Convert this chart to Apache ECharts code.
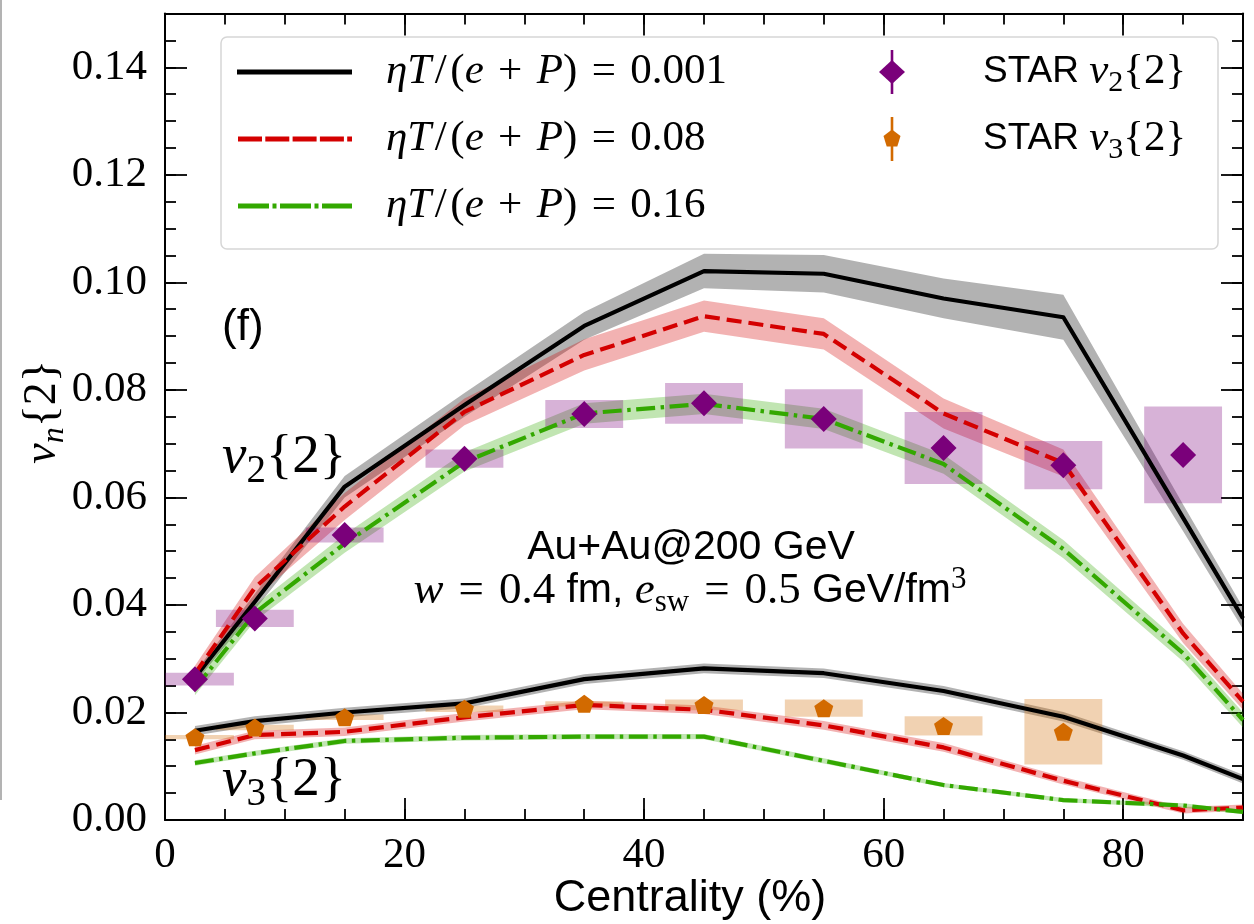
<!DOCTYPE html>
<html>
<head>
<meta charset="utf-8">
<script src="https://cdn.jsdelivr.net/npm/echarts@6/dist/echarts.min.js"></script>
<style>
  html, body { margin: 0; padding: 0; background: #ffffff; }
  #chart { width: 1254px; height: 924px; }
</style>
</head>
<body>
<div id="chart"></div>
<script>
// ---- data -------------------------------------------------------------
// centrality bins of the STAR points (%)
const centrality = [2.5, 7.5, 15, 25, 35, 45, 55, 65, 75, 85];
// centrality nodes of the hydro curves (%)
const modelX = [2.5, 7.5, 15, 25, 35, 45, 55, 65, 75, 85, 90];

// v2{2} hydro, eta T/(e+P) = 0.001, 0.08, 0.16 : central value and band half-width
const v2Eta001 = [0.0265, 0.0406, 0.0620, 0.0772, 0.0919, 0.1021, 0.1016, 0.0970, 0.0935, 0.0562, 0.0375];
const v2Eta001Err = [0.0010, 0.0015, 0.0020, 0.0022, 0.0026, 0.0032, 0.0035, 0.0037, 0.0042, 0.0025, 0.0020];
const v2Eta008 = [0.0272, 0.0432, 0.0583, 0.0759, 0.0865, 0.0937, 0.0904, 0.0756, 0.0664, 0.0347, 0.0220];
const v2Eta008Err = [0.0015, 0.0020, 0.0025, 0.0025, 0.0029, 0.0029, 0.0029, 0.0028, 0.0025, 0.0018, 0.0015];
const v2Eta016 = [0.0245, 0.0385, 0.0514, 0.0666, 0.0756, 0.0774, 0.0746, 0.0662, 0.0504, 0.0310, 0.0186];
const v2Eta016Err = [0.0013, 0.0015, 0.0017, 0.0018, 0.0019, 0.0019, 0.0019, 0.0018, 0.0017, 0.0015, 0.0014];

// v3{2} hydro
const v3Eta001 = [0.0166, 0.0184, 0.0200, 0.0217, 0.0262, 0.0282, 0.0273, 0.0240, 0.0192, 0.0120, 0.0076];
const v3Eta001Err = [0.0009, 0.0009, 0.0009, 0.0009, 0.0009, 0.0009, 0.0009, 0.0009, 0.0009, 0.0008, 0.0008];
const v3Eta008 = [0.0130, 0.0158, 0.0164, 0.0191, 0.0214, 0.0205, 0.0176, 0.0135, 0.0073, 0.0018, 0.0023];
const v3Eta008Err = [0.0008, 0.0008, 0.0008, 0.0008, 0.0008, 0.0008, 0.0008, 0.0008, 0.0007, 0.0006, 0.0006];
const v3Eta016 = [0.0106, 0.0124, 0.0147, 0.0153, 0.0155, 0.0155, 0.0110, 0.0065, 0.0037, 0.0027, 0.0015];
const v3Eta016Err = [0.0005, 0.0005, 0.0005, 0.0005, 0.0005, 0.0005, 0.0005, 0.0004, 0.0004, 0.0004, 0.0004];

// STAR Au+Au 200 GeV two-particle cumulants, with systematic half-heights
const starV2 = [0.0262, 0.0375, 0.0530, 0.0672, 0.0755, 0.0775, 0.0746, 0.0692, 0.0660, 0.0679];
const starV2Sys = [0.0012, 0.0016, 0.0014, 0.0017, 0.0026, 0.0038, 0.0055, 0.0067, 0.0045, 0.0090];
const starV3 = [0.0154, 0.0172, 0.0191, 0.0207, 0.0216, 0.0214, 0.0208, 0.0175, 0.0164];
const starV3Sys = [0.0004, 0.0005, 0.0005, 0.0006, 0.0005, 0.0010, 0.0016, 0.0018, 0.0061];

// axis ticks
const xTicks = [0, 20, 40, 60, 80];
const yTicks = [0.00, 0.02, 0.04, 0.06, 0.08, 0.10, 0.12, 0.14];

// ---- styling ----------------------------------------------------------
const SERIF = 'Liberation Serif';
const SANS = 'Liberation Sans';
const BLACK = '#000000', RED = '#d40000', GREEN = '#33a800';
const PURPLE = '#7a007a', ORANGE = '#d26a00';
const BOX_HALF = 3.25;          // half-width of systematic boxes (centrality %)
const DASHED = [15, 7];
const DASHDOT = [19, 5.5, 3.5, 5.5];
const PENTAGON = 'path://M0,-1L0.951,-0.309L0.588,0.809L-0.588,0.809L-0.951,-0.309Z';
const SP = '\u2004';            // math-style operator spacing
const HS = '\u200A';            // hair space

function alpha(hex, a) {
  const n = parseInt(hex.slice(1), 16);
  return `rgba(${n >> 16},${(n >> 8) & 255},${n & 255},${a})`;
}

function bandSeries(mean, err, color) {
  return {
    type: 'custom', coordinateSystem: 'cartesian2d', xAxisIndex: 0, yAxisIndex: 0,
    clip: true, silent: true, z: 1, data: [[0, 0]],
    renderItem: (params, api) => {
      const up = modelX.map((x, i) => api.coord([x, mean[i] + err[i]]));
      const lo = modelX.map((x, i) => api.coord([x, mean[i] - err[i]])).reverse();
      return { type: 'polygon', shape: { points: up.concat(lo) }, style: { fill: alpha(color, 0.3) } };
    }
  };
}

function lineSeries(mean, color, dash) {
  return {
    type: 'line', xAxisIndex: 0, yAxisIndex: 0, clip: true, silent: true, z: 3,
    symbol: 'none', data: modelX.map((x, i) => [x, mean[i]]),
    lineStyle: { color: color, width: 4.2, type: dash, cap: 'butt', join: 'round' }
  };
}

function boxSeries(xs, vals, sys, color) {
  return {
    type: 'custom', coordinateSystem: 'cartesian2d', xAxisIndex: 0, yAxisIndex: 0,
    clip: true, silent: true, z: 2,
    data: vals.map((v, i) => [xs[i], v, sys[i]]),
    renderItem: (params, api) => {
      const x = api.value(0), y = api.value(1), e = api.value(2);
      const a = api.coord([x - BOX_HALF, y + e]);
      const b = api.coord([x + BOX_HALF, y - e]);
      return { type: 'rect', shape: { x: a[0], y: a[1], width: b[0] - a[0], height: b[1] - a[1] },
               style: { fill: alpha(color, 0.3) } };
    }
  };
}

function pointSeries(xs, vals, symbol, size, color) {
  return {
    type: 'scatter', xAxisIndex: 0, yAxisIndex: 0, silent: true, z: 4,
    symbol: symbol, symbolSize: size,
    data: vals.map((v, i) => [xs[i], v]),
    itemStyle: { color: color, opacity: 1 }
  };
}

// ---- axes (major + minor ticks on all four sides) ----------------------
const tickStyle = { color: '#000', width: 1.8 };
function xAxisDef(position, interval, len, labels, line) {
  return {
    type: 'value', position: position, min: 0, max: 90, interval: interval,
    axisLine: { show: line, onZero: false, lineStyle: { color: '#000', width: 2 } },
    axisTick: { show: true, inside: true, length: len, lineStyle: tickStyle },
    splitLine: { show: false },
    axisLabel: labels ? {
      show: true, margin: 14, fontFamily: SERIF, fontSize: 43, color: '#000',
      formatter: v => (xTicks.indexOf(v) >= 0 ? String(v) : '')
    } : { show: false }
  };
}
function yAxisDef(position, interval, len, labels, line) {
  return {
    type: 'value', position: position, min: 0, max: 0.15, interval: interval,
    axisLine: { show: line, onZero: false, lineStyle: { color: '#000', width: 2 } },
    axisTick: { show: true, inside: true, length: len, lineStyle: tickStyle },
    splitLine: { show: false },
    axisLabel: labels ? {
      show: true, margin: 18, fontFamily: SERIF, fontSize: 43, color: '#000',
      formatter: v => {
        const hit = yTicks.find(t => Math.abs(t - v) < 1e-9);
        return hit === undefined ? '' : hit.toFixed(2);
      }
    } : { show: false }
  };
}

// ---- text helpers -----------------------------------------------------
function mathRich(base, sansSize) {
  const lh = Math.round(base * 1.2);
  const sub = Math.round(base * 0.7);
  return {
    i: { fontFamily: SERIF, fontStyle: 'italic', fontSize: base, lineHeight: lh, verticalAlign: 'middle' },
    r: { fontFamily: SERIF, fontSize: base, lineHeight: lh, verticalAlign: 'middle' },
    sf: { fontFamily: SANS, fontSize: sansSize || Math.round(base * 0.95), lineHeight: lh, verticalAlign: 'middle' },
    s: { fontFamily: SERIF, fontSize: sub, lineHeight: sub, verticalAlign: 'bottom' },
    si: { fontFamily: SERIF, fontStyle: 'italic', fontSize: sub, lineHeight: sub, verticalAlign: 'bottom' },
    su: { fontFamily: SERIF, fontSize: sub, lineHeight: sub, verticalAlign: 'top' }
  };
}
function textEl(x, y, text, base, align, extra, sansSize) {
  return Object.assign({
    type: 'text', x: x, y: y, z: 100, silent: true,
    style: {
      text: text, fill: '#000', font: `${base}px "${SERIF}"`, lineHeight: Math.round(base * 1.2),
      align: align || 'left', verticalAlign: 'middle', rich: mathRich(base, sansSize)
    }
  }, extra || {});
}
function etaLabel(value) {
  return `{i|ηT}{r|${HS}/${HS}(}{i|e}{r|${SP}+${SP}}{i|P}{r|)${SP}=${SP}${value}}`;
}

// ---- legend (drawn in the upper band of the frame) ---------------------
const LEG = 43;
const legendRows = [72, 139, 206];
const legendEls = [
  { type: 'rect', z: 90, silent: true, shape: { x: 221, y: 37, width: 997, height: 212, r: 6 },
    style: { fill: 'rgba(255,255,255,0.85)', stroke: '#d6d6d6', lineWidth: 1.5 } },
  { type: 'line', z: 95, silent: true, shape: { x1: 237, y1: legendRows[0], x2: 352, y2: legendRows[0] },
    style: { stroke: BLACK, lineWidth: 5 } },
  { type: 'line', z: 95, silent: true, shape: { x1: 238, y1: legendRows[1], x2: 352, y2: legendRows[1] },
    style: { stroke: RED, lineWidth: 5, lineDash: [24, 3.3] } },
  { type: 'line', z: 95, silent: true, shape: { x1: 238, y1: legendRows[2], x2: 352, y2: legendRows[2] },
    style: { stroke: GREEN, lineWidth: 5, lineDash: [31, 3.5, 4, 3.5] } },
  textEl(386, legendRows[0], etaLabel('0.001'), LEG),
  textEl(386, legendRows[1], etaLabel('0.08'), LEG),
  textEl(386, legendRows[2], etaLabel('0.16'), LEG),
  // STAR v2 entry: error bar + diamond
  { type: 'line', z: 95, silent: true, shape: { x1: 892, y1: 50, x2: 892, y2: 94 },
    style: { stroke: PURPLE, lineWidth: 2.6 } },
  { type: 'polygon', z: 96, silent: true, shape: { points: [[892, 60], [905, 72], [892, 84], [879, 72]] },
    style: { fill: PURPLE } },
  // STAR v3 entry: error bar + pentagon
  { type: 'line', z: 95, silent: true, shape: { x1: 892, y1: 117, x2: 892, y2: 161 },
    style: { stroke: ORANGE, lineWidth: 2.6 } },
  { type: 'polygon', z: 96, silent: true,
    shape: { points: [[892, 129.5], [900.5, 136], [897.3, 146.5], [886.7, 146.5], [883.5, 136]] },
    style: { fill: ORANGE } },
  textEl(983, legendRows[0], '{sf|STAR }{i|v}{s|2}{2}', LEG, 'left', null, 37),
  textEl(983, legendRows[1], '{sf|STAR }{i|v}{s|3}{2}', LEG, 'left', null, 37)
];

// ---- annotations ------------------------------------------------------
const annotEls = [
  { type: 'text', x: 222, y: 328, z: 100, silent: true,
    style: { text: '(f)', fill: '#000', font: `44px "${SANS}"`, verticalAlign: 'middle' } },
  textEl(222, 458, '{i|v}{s|2}{2}', 55),
  textEl(222, 781, '{i|v}{s|3}{2}', 55),
  { type: 'text', x: 691, y: 548, z: 100, silent: true,
    style: { text: 'Au+Au@200 GeV', fill: '#000', font: `41px "${SANS}"`, align: 'center', verticalAlign: 'middle' } },
  textEl(690, 591, `{i|w}{r|${SP}=${SP}0.4 }{sf|fm, }{i|e}{s|sw}{r|${SP}=${SP}0.5 }{sf|GeV/fm}{su|3}`, 45, 'center', null, 41),
  // axis titles
  textEl(43, 412, '{i|v}{si|n}{2}', 46, 'center', { rotation: Math.PI / 2 }),
  { type: 'text', x: 690, y: 899, z: 100, silent: true,
    style: { text: 'Centrality (%)', fill: '#000', font: `45px "${SANS}"`, align: 'center', verticalAlign: 'middle' } },
  // thin frame line at the left edge of the page
  { type: 'line', z: 100, silent: true, shape: { x1: 1, y1: 0, x2: 1, y2: 800 },
    style: { stroke: '#9a9a9a', lineWidth: 1.5 } }
];

// ---- chart ------------------------------------------------------------
const chart = echarts.init(document.getElementById('chart'), null, { renderer: 'canvas' });
chart.setOption({
  backgroundColor: '#ffffff',
  animation: false,
  grid: { left: 165, right: 11, top: 13.5, bottom: 104, containLabel: false },
  xAxis: [
    xAxisDef('bottom', 20, 22, true, true),
    xAxisDef('bottom', 5, 11, false, false),
    xAxisDef('top', 20, 22, false, true),
    xAxisDef('top', 5, 11, false, false)
  ],
  yAxis: [
    yAxisDef('left', 0.02, 22, true, true),
    yAxisDef('left', 0.005, 11, false, false),
    yAxisDef('right', 0.02, 22, false, true),
    yAxisDef('right', 0.005, 11, false, false)
  ],
  series: [
    bandSeries(v2Eta001, v2Eta001Err, BLACK),
    bandSeries(v2Eta008, v2Eta008Err, RED),
    bandSeries(v2Eta016, v2Eta016Err, GREEN),
    bandSeries(v3Eta001, v3Eta001Err, BLACK),
    bandSeries(v3Eta008, v3Eta008Err, RED),
    bandSeries(v3Eta016, v3Eta016Err, GREEN),
    boxSeries(centrality, starV2, starV2Sys, PURPLE),
    boxSeries(centrality.slice(0, starV3.length), starV3, starV3Sys, ORANGE),
    lineSeries(v2Eta001, BLACK, 'solid'),
    lineSeries(v2Eta008, RED, DASHED),
    lineSeries(v2Eta016, GREEN, DASHDOT),
    lineSeries(v3Eta001, BLACK, 'solid'),
    lineSeries(v3Eta008, RED, DASHED),
    lineSeries(v3Eta016, GREEN, DASHDOT),
    pointSeries(centrality, starV2, 'diamond', 26, PURPLE),
    pointSeries(centrality.slice(0, starV3.length), starV3, PENTAGON, [19, 18], ORANGE)
  ],
  graphic: { elements: legendEls.concat(annotEls) }
});
</script>
</body>
</html>
